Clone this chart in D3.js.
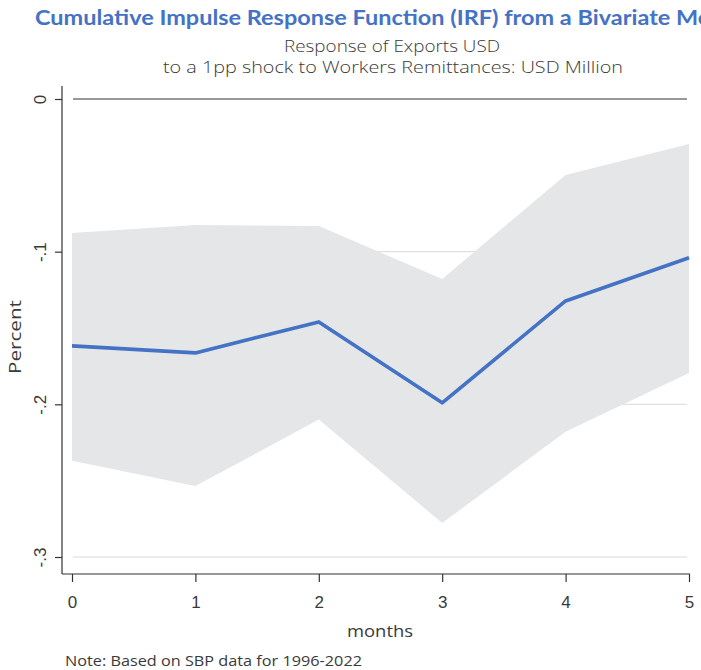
<!DOCTYPE html>
<html>
<head>
<meta charset="utf-8">
<script src="https://cdn.jsdelivr.net/npm/d3@7"></script>
<style>
  body { margin: 0; background: #fff; }
  svg { display: block; font-family: "Open Sans", "Lato", sans-serif; }
</style>
</head>
<body>
<svg id="chart" width="701" height="670"></svg>
<script>
// Horizon (months after the shock)
const months = [0, 1, 2, 3, 4, 5];
// Cumulative IRF point estimate
const irf = [-0.1617, -0.1663, -0.1460, -0.1990, -0.1323, -0.1040];
// Confidence band bounds
const upper = [-0.0877, -0.0825, -0.0832, -0.1179, -0.0498, -0.0295];
const lower = [-0.2370, -0.2535, -0.2100, -0.2777, -0.2180, -0.1794];
// Axis ticks
const yTicks = [0, -0.1, -0.2, -0.3];
const yTickLabels = ["0", "-.1", "-.2", "-.3"];
const xTicks = [0, 1, 2, 3, 4, 5];

const svg = d3.select("#chart");

const x = d3.scaleLinear().domain([0, 5]).range([72, 689]);
const y = d3.scaleLinear().domain([-0.3, 0]).range([557, 99]);

const blue = "#4472C4";
const ink = "#3a3a3a";

// Title block
svg.append("text")
  .attr("x", 35).attr("y", 25)
  .attr("font-family", "Lato, sans-serif")
  .attr("font-size", 20).attr("font-weight", "bold")
  .attr("fill", blue)
  .attr("textLength", 708).attr("lengthAdjust", "spacingAndGlyphs")
  .text("Cumulative Impulse Response Function (IRF) from a Bivariate Model");

svg.append("text")
  .attr("x", 392).attr("y", 52)
  .attr("text-anchor", "middle")
  .attr("font-size", 16).attr("fill", ink).attr("font-weight", 300)
  .attr("textLength", 216).attr("lengthAdjust", "spacingAndGlyphs")
  .text("Response of Exports USD");

svg.append("text")
  .attr("x", 393).attr("y", 73)
  .attr("text-anchor", "middle")
  .attr("font-size", 16).attr("fill", ink).attr("font-weight", 300)
  .attr("textLength", 460).attr("lengthAdjust", "spacingAndGlyphs")
  .text("to a 1pp shock to Workers Remittances: USD Million");

// Gridlines
svg.append("g").selectAll("line")
  .data(yTicks.filter(d => d !== 0))
  .join("line")
  .attr("x1", 73).attr("x2", 687)
  .attr("y1", d => y(d)).attr("y2", d => y(d))
  .attr("stroke", "#d9d9d9").attr("stroke-width", 1);

// Confidence band
const data = months.map((m, i) => ({ m, v: irf[i], lo: lower[i], hi: upper[i] }));
svg.append("path")
  .datum(data)
  .attr("fill", "#e5e6e8")
  .attr("d", d3.area().x(d => x(d.m)).y0(d => y(d.lo)).y1(d => y(d.hi)));

// Zero reference line
svg.append("line")
  .attr("x1", 73).attr("x2", 687)
  .attr("y1", y(0)).attr("y2", y(0))
  .attr("stroke", "#333").attr("stroke-width", 1.2);

// IRF line
svg.append("path")
  .datum(data)
  .attr("fill", "none")
  .attr("stroke", blue).attr("stroke-width", 3.6)
  .attr("stroke-linejoin", "round")
  .attr("d", d3.line().x(d => x(d.m)).y(d => y(d.v)));

// Y axis
const yAxis = svg.append("g")
  .attr("transform", "translate(62,0)")
  .call(d3.axisLeft(y).tickValues(yTicks).tickSize(7).tickPadding(14)
    .tickFormat((d, i) => yTickLabels[i]));
yAxis.select(".domain").attr("d", "M0,86V574").attr("stroke", "#333").attr("stroke-width", 1.2);
yAxis.selectAll(".tick line").attr("stroke", "#333").attr("stroke-width", 1.2);
yAxis.selectAll(".tick text")
  .attr("font-size", 17).attr("fill", ink)
  .attr("text-anchor", "middle")
  .attr("x", 0)
  .attr("transform", "translate(-22,0) rotate(-90)")
  .attr("dy", "0.35em");

// X axis
const xAxis = svg.append("g")
  .attr("transform", "translate(0,574)")
  .call(d3.axisBottom(x).tickValues(xTicks).tickSize(8).tickPadding(14)
    .tickFormat(d3.format("d")));
xAxis.select(".domain").attr("d", "M62,0H690").attr("stroke", "#333").attr("stroke-width", 1.2);
xAxis.selectAll(".tick line").attr("stroke", "#333").attr("stroke-width", 1.2);
xAxis.selectAll(".tick text").attr("font-size", 17).attr("fill", ink);

// Axis titles
svg.append("text")
  .attr("transform", "translate(21,337) rotate(-90)")
  .attr("text-anchor", "middle")
  .attr("font-size", 17).attr("fill", ink)
  .attr("textLength", 74).attr("lengthAdjust", "spacingAndGlyphs")
  .text("Percent");

svg.append("text")
  .attr("x", 380).attr("y", 637)
  .attr("text-anchor", "middle")
  .attr("font-size", 17).attr("fill", ink)
  .attr("textLength", 66).attr("lengthAdjust", "spacingAndGlyphs")
  .text("months");

// Note
svg.append("text")
  .attr("x", 65).attr("y", 666)
  .attr("font-size", 14).attr("fill", ink)
  .attr("textLength", 297).attr("lengthAdjust", "spacingAndGlyphs")
  .text("Note: Based on SBP data for 1996-2022");
</script>
</body>
</html>
